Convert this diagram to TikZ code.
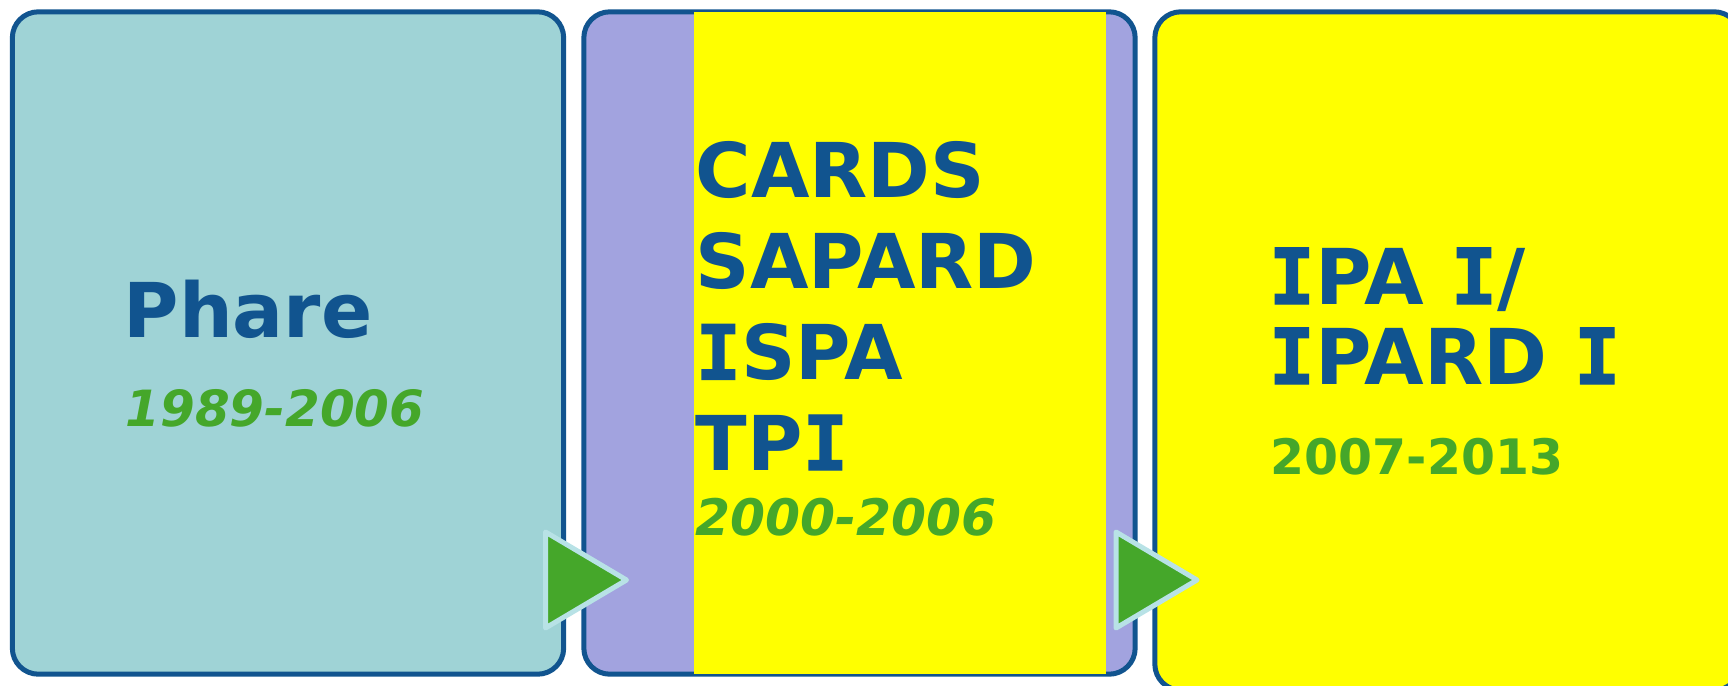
\documentclass[tikz,border=0pt]{standalone}
\usepackage{fontspec}
\setmainfont{DejaVu Sans}
\newfontfamily\slabface[FakeBold=1.6]{DejaVu Sans Mono}
\usepackage{xcolor}
\usetikzlibrary{positioning}
\definecolor{frameblue}{RGB}{17, 84, 143}
\definecolor{paleteal}{RGB}{159, 211, 214}
\definecolor{lavender}{RGB}{162, 163, 223}
\definecolor{signyellow}{RGB}{255, 255, 0}
\definecolor{leafgreen}{RGB}{69, 167, 42}
\definecolor{icelight}{RGB}{184, 226, 230}
% capital I with slab ends
\newcommand{\slabI}{{\slabface\bfseries I}}

\tikzset{
  panel/.style={draw=frameblue, line width=0.05cm, rounded corners=0.26cm, inner sep=0pt},
  progname/.style={anchor=base west, inner sep=0pt, text=frameblue, font=\bfseries},
  period/.style={anchor=base west, inner sep=0pt, text=leafgreen},
  steparrow/.style={draw=icelight, fill=leafgreen, line width=0.05cm, line join=round}
}

\begin{document}
\begin{tikzpicture}[x=0.01cm, y=-0.01cm]
  \useasboundingbox (0,0) rectangle (1728,685);
  \clip (0,0) rectangle (1728,685);

  % The three periods
  \node (phare) [panel, fill=paleteal, minimum width=5.51cm, minimum height=6.62cm] at (288,343) {};
  \node (preacc) [panel, fill=lavender, minimum width=5.51cm, minimum height=6.62cm] at (859.5,343) {};
  \node (ipa) [panel, fill=signyellow, minimum width=5.85cm, minimum height=6.78cm] at (1447.5,351) {};
  % yellow band over the middle panel
  \fill[signyellow] (694,12) rectangle (1106,674);

  % Phare
  \node (pharename) [progname, font=\fontsize{21.5pt}{25pt}\bfseries\selectfont] at (123,337) {Phare};
  \node (pharedate) [period, font=\fontsize{14.2pt}{17pt}\bfseries\itshape\selectfont] at (125,426) {1989-2006};

  % Pre-accession instruments
  \foreach \t [count=\i] in {CARDS, SAPARD, \slabI SPA, TP\slabI} {
    \node (pre\i) [progname, font=\fontsize{21.5pt}{25pt}\bfseries\selectfont] at ({695},{198+90.7*(\i-1)}) {\t};
  }
  \node (predate) [period, font=\fontsize{14.3pt}{17pt}\bfseries\itshape\selectfont] at (695,535) {2000-2006};

  % IPA
  \node (ipaone) [progname, font=\fontsize{21.9pt}{25pt}\bfseries\selectfont] at (1268,304) {\slabI PA \slabI/};
  \node (ipardone) [progname, font=\fontsize{21.9pt}{25pt}\bfseries\selectfont] at (1268,384) {\slabI PARD \slabI};
  \node (ipadate) [period, font=\fontsize{13.9pt}{17pt}\bfseries\selectfont] at (1270,474) {2007-2013};

  % Step arrows between panels
  \foreach \x in {545.5, 1116} {
    \draw[steparrow] (\x,532) -- (\x,628) -- (\x+81,580) -- cycle;
  }
\end{tikzpicture}
\end{document}
